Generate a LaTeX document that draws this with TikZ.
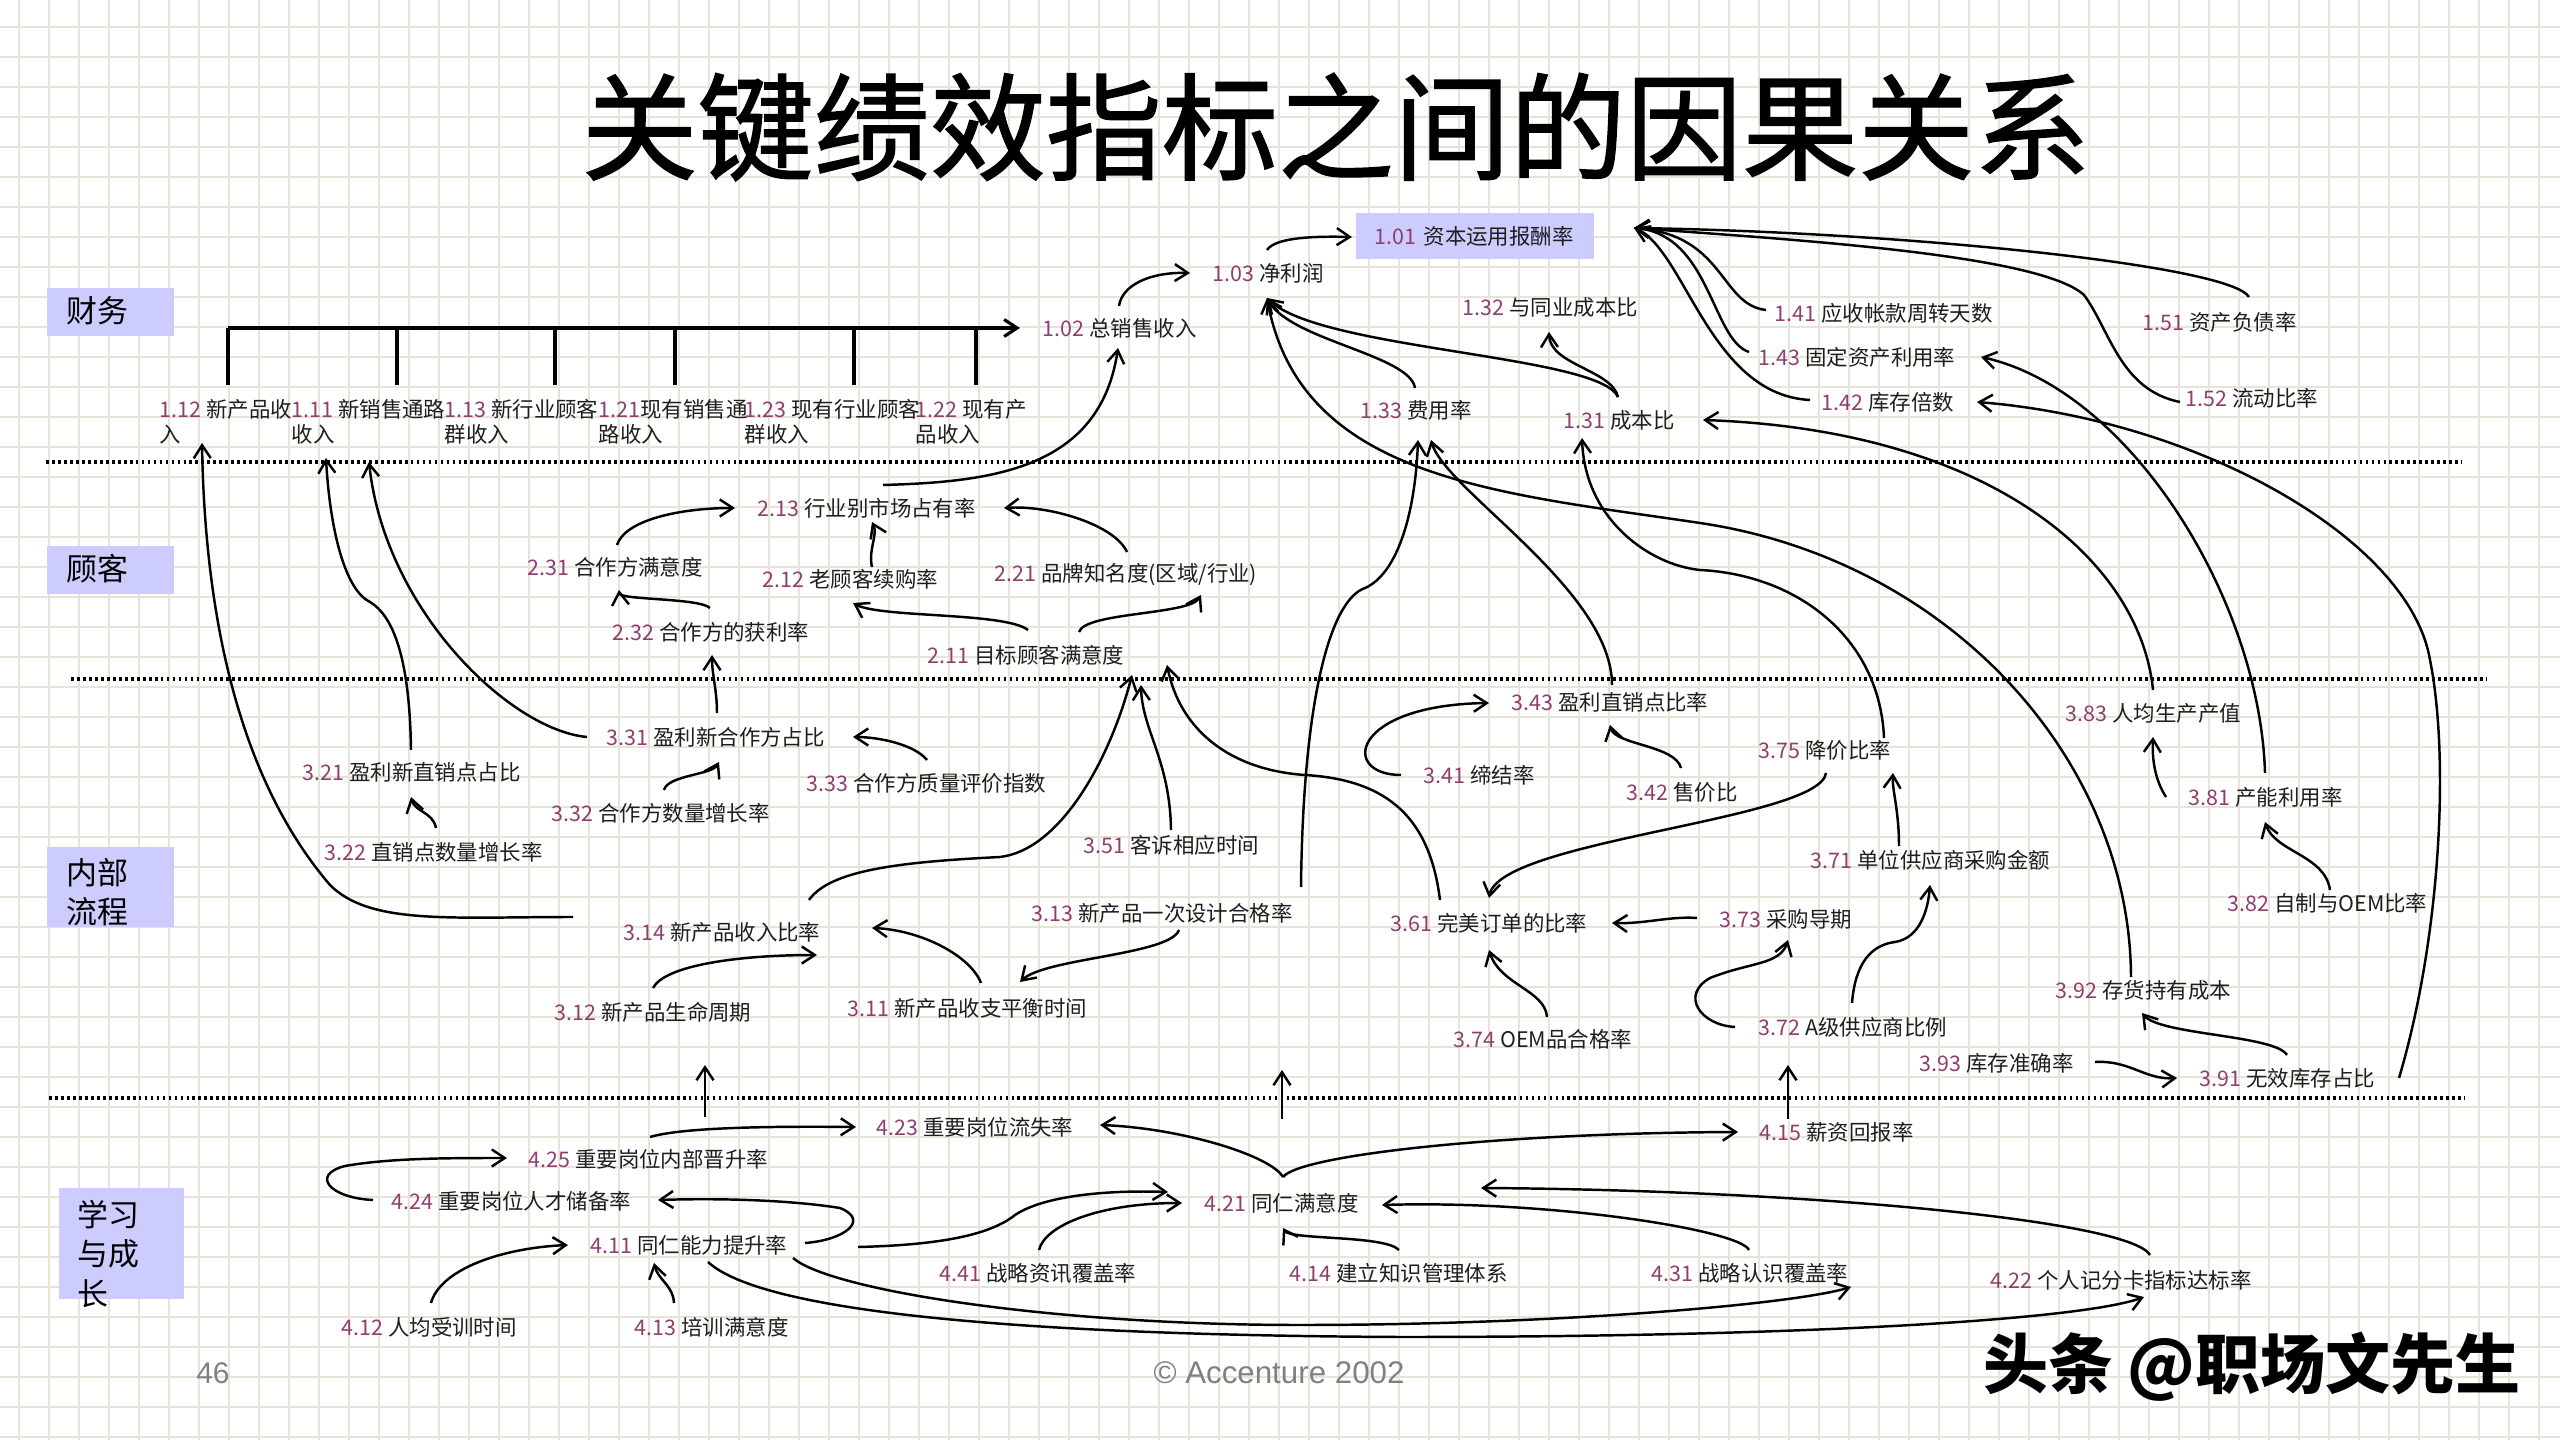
\documentclass[tikz,border=0pt]{standalone}
\usepackage{fontspec}
\usepackage{xcolor}
\usetikzlibrary{arrows.meta,calc}
\setmainfont{Noto Sans CJK SC}
\newfontfamily\latinsans{Liberation Sans}
\newfontfamily\titlefont[FakeBold=1.2]{Noto Sans CJK SC}
\definecolor{kpiInk}{HTML}{1E1E1E}
\definecolor{kpiNum}{HTML}{8E3F6E}
\definecolor{kpiBand}{HTML}{CCCCFF}
\definecolor{kpiGrid}{HTML}{E6E4D8}
\definecolor{kpiFoot}{HTML}{808080}
\newcommand{\kno}[1]{\textcolor{kpiNum}{#1}}

\begin{document}
\begin{tikzpicture}[x=0.01cm,y=-0.01cm,
  kpi/.style={anchor=west,inner sep=0pt,font=\fontsize{6.1}{7.1}\selectfont,text=kpiInk,align=left},
  band/.style={fill=kpiBand,anchor=north west,inner sep=0pt},
  bandtext/.style={anchor=west,inner sep=0pt,font=\fontsize{8.8}{11.1}\selectfont,align=left},
  link/.style={-{Straight Barb[length=1.3mm,width=1.7mm]},line width=0.7pt},
  bus/.style={line width=0.9pt},
  sep/.style={line width=1pt,dash pattern=on 0.8pt off 0.9pt},
  gridline/.style={kpiGrid,line width=0.8pt}
]
\useasboundingbox (0,0) rectangle (2560,1440);
\fill[white] (0,0) rectangle (2560,1440);
\foreach \gx in {19,49,...,2560} \draw[gridline] (\gx,0) -- (\gx,1440);
\foreach \gy in {27,57,...,1440} \draw[gridline] (0,\gy) -- (2560,\gy);

% title
\node[font=\titlefont\fontsize{33}{40}\selectfont] (title) at (1336,127) {关键绩效指标之间的因果关系};

% perspective bands
\node[band,minimum width=1.27cm,minimum height=0.48cm] (bfin) at (46,287) {};
\node[band,minimum width=1.27cm,minimum height=0.48cm] (bcus) at (46,545) {};
\node[band,minimum width=1.27cm,minimum height=0.80cm] (bint) at (46,846) {};
\node[band,minimum width=1.25cm,minimum height=1.11cm] (blrn) at (58,1187) {};
\node[bandtext] (tfin) at (66,311) {财务};
\node[bandtext] (tcus) at (66,569) {顾客};
\node[bandtext] (tint) at (66,892) {内部\\流程};
\node[bandtext] (tlrn) at (77,1254) {学习\\与成\\长};

% separators
\draw[sep] (46,462) -- (2462,462);
\draw[sep] (71,679) -- (2487,679);
\draw[sep] (49,1098) -- (2465,1098);

% finance
\node[kpi] (f112) at (159,422) {\kno{1.12} 新产品收\\入};
\node[kpi] (f111) at (291,422) {\kno{1.11} 新销售通路\\收入};
\node[kpi] (f113) at (444,422) {\kno{1.13} 新行业顾客\\群收入};
\node[kpi] (f121) at (598,422) {\kno{1.21}现有销售通\\路收入};
\node[kpi] (f123) at (744,422) {\kno{1.23} 现有行业顾客\\群收入};
\node[kpi] (f122) at (915,422) {\kno{1.22} 现有产\\品收入};
\node[kpi] (f102) at (1042,328) {\kno{1.02} 总销售收入};
\node[kpi] (f103) at (1212,273) {\kno{1.03} 净利润};
\node[kpi,fill=kpiBand,minimum height=0.45cm,text width=2.0cm,inner xsep=0.19cm] (f101) at (1355,236) {\kno{1.01} 资本运用报酬率};
\node[kpi] (f132) at (1462,307) {\kno{1.32} 与同业成本比};
\node[kpi] (f133) at (1360,410) {\kno{1.33} 费用率};
\node[kpi] (f131) at (1563,420) {\kno{1.31} 成本比};
\node[kpi] (f141) at (1774,313) {\kno{1.41} 应收帐款周转天数};
\node[kpi] (f143) at (1758,357) {\kno{1.43} 固定资产利用率};
\node[kpi] (f142) at (1821,402) {\kno{1.42} 库存倍数};
\node[kpi] (f151) at (2142,322) {\kno{1.51} 资产负债率};
\node[kpi] (f152) at (2185,398) {\kno{1.52} 流动比率};

% customer
\node[kpi] (c213) at (757,508) {\kno{2.13} 行业别市场占有率};
\node[kpi] (c231) at (527,567) {\kno{2.31} 合作方满意度};
\node[kpi] (c212) at (762,579) {\kno{2.12} 老顾客续购率};
\node[kpi] (c221) at (994,575) {\kno{2.21} 品牌知名度(区域/行业)};
\node[kpi] (c232) at (612,632) {\kno{2.32} 合作方的获利率};
\node[kpi] (c211) at (927,655) {\kno{2.11} 目标顾客满意度};

% internal process
\node[kpi] (p331) at (606,737) {\kno{3.31} 盈利新合作方占比};
\node[kpi] (p321) at (302,772) {\kno{3.21} 盈利新直销点占比};
\node[kpi] (p333) at (806,783) {\kno{3.33} 合作方质量评价指数};
\node[kpi] (p332) at (551,813) {\kno{3.32} 合作方数量增长率};
\node[kpi] (p322) at (324,852) {\kno{3.22} 直销点数量增长率};
\node[kpi] (p343) at (1511,702) {\kno{3.43} 盈利直销点比率};
\node[kpi] (p341) at (1423,775) {\kno{3.41} 缔结率};
\node[kpi] (p342) at (1626,792) {\kno{3.42} 售价比};
\node[kpi] (p351) at (1083,845) {\kno{3.51} 客诉相应时间};
\node[kpi] (p375) at (1758,750) {\kno{3.75} 降价比率};
\node[kpi] (p383) at (2065,713) {\kno{3.83} 人均生产产值};
\node[kpi] (p381) at (2188,797) {\kno{3.81} 产能利用率};
\node[kpi] (p371) at (1810,860) {\kno{3.71} 单位供应商采购金额};
\node[kpi] (p382) at (2227,903) {\kno{3.82} 自制与OEM比率};
\node[kpi] (p314) at (623,932) {\kno{3.14} 新产品收入比率};
\node[kpi] (p313) at (1031,913) {\kno{3.13} 新产品一次设计合格率};
\node[kpi] (p361) at (1390,923) {\kno{3.61} 完美订单的比率};
\node[kpi] (p373) at (1719,919) {\kno{3.73} 采购导期};
\node[kpi] (p312) at (554,1012) {\kno{3.12} 新产品生命周期};
\node[kpi] (p311) at (847,1008) {\kno{3.11} 新产品收支平衡时间};
\node[kpi] (p374) at (1453,1039) {\kno{3.74} OEM品合格率};
\node[kpi] (p392) at (2055,990) {\kno{3.92} 存货持有成本};
\node[kpi] (p372) at (1758,1027) {\kno{3.72} A级供应商比例};
\node[kpi] (p393) at (1919,1063) {\kno{3.93} 库存准确率};
\node[kpi] (p391) at (2199,1078) {\kno{3.91} 无效库存占比};

% learning and growth
\node[kpi] (l423) at (876,1127) {\kno{4.23} 重要岗位流失率};
\node[kpi] (l415) at (1759,1132) {\kno{4.15} 薪资回报率};
\node[kpi] (l425) at (528,1159) {\kno{4.25} 重要岗位内部晋升率};
\node[kpi] (l424) at (391,1201) {\kno{4.24} 重要岗位人才储备率};
\node[kpi] (l421) at (1204,1203) {\kno{4.21} 同仁满意度};
\node[kpi] (l411) at (590,1245) {\kno{4.11} 同仁能力提升率};
\node[kpi] (l441) at (939,1273) {\kno{4.41} 战略资讯覆盖率};
\node[kpi] (l414) at (1289,1273) {\kno{4.14} 建立知识管理体系};
\node[kpi] (l431) at (1651,1273) {\kno{4.31} 战略认识覆盖率};
\node[kpi] (l422) at (1990,1280) {\kno{4.22} 个人记分卡指标达标率};
\node[kpi] (l412) at (341,1327) {\kno{4.12} 人均受训时间};
\node[kpi] (l413) at (634,1327) {\kno{4.13} 培训满意度};

% footer
\node[font=\latinsans\fontsize{8.5}{10}\selectfont,text=kpiFoot] (pageno) at (213,1373) {46};
\node[font=\latinsans\fontsize{8.9}{10}\selectfont,text=kpiFoot] (copyr) at (1279,1373) {© Accenture 2002};
\node[font=\fontsize{18.5}{22}\selectfont\bfseries] (mark) at (2252,1367) {头条 @职场文先生};

% revenue bus
\coordinate (busL) at (228,328);
\draw[link,bus] (busL) -- ([shift={(-22,0)}]f102.west);
\foreach \n/\dx in {f112/69,f111/106,f113/111,f121/77,f123/110,f122/61}
  \draw[bus] ([shift={(\dx,-14)}]\n.north west) |- (busL);

% finance links
\draw[link] ([shift={(77,-22)}]f102.west) .. controls (1122,285) and (1150,272) .. ([shift={(-22,0)}]f103.west);
\draw[link] ([shift={(55,-23)}]f103.west) .. controls (1275,238) and (1310,236) .. ([shift={(-3,1)}]f101.west);
\draw[link] ([shift={(55,-22)}]f133.west) .. controls (1410,355) and (1290,340) .. ([shift={(55,25)}]f103.west);
\draw[link] ([shift={(55,-23)}]f131.west) .. controls (1600,355) and (1320,350) .. ([shift={(55,25)}]f103.west);
\draw[link] ([shift={(55,-23)}]f131.west) .. controls (1612,370) and (1550,365) .. ([shift={(87,25)}]f132.west);
\draw[link] ([shift={(107,-25)}]f151.west) .. controls (2230,265) and (1900,232) .. ([shift={(279,-8)}]f101.west);
\draw[link] ([shift={(-5,4)}]f152.west) .. controls (2120,390) and (2110,330) .. (2084,295) .. controls (2040,255) and (1800,240) .. ([shift={(279,-8)}]f101.west);
\draw[link] ([shift={(-8,-3)}]f141.west) .. controls (1720,305) and (1725,235) .. ([shift={(279,-8)}]f101.west);
\draw[link] ([shift={(-9,-5)}]f143.west) .. controls (1712,340) and (1710,235) .. ([shift={(279,-8)}]f101.west);
\draw[link] ([shift={(-11,-2)}]f142.west) .. controls (1710,395) and (1685,250) .. ([shift={(279,-8)}]f101.west);

% customer / process up to finance
\draw[link] ([shift={(126,-23)}]c213.west) .. controls (990,482) and (1100,470) .. ([shift={(76,20)}]f102.west);
\draw[link] ([shift={(76,-13)}]p392.west) .. controls (2130,760) and (1950,560) .. (1700,523) .. controls (1500,493) and (1300,480) .. ([shift={(55,25)}]f103.west);
\draw[link] ([shift={(101,-17)}]p343.west) .. controls (1612,590) and (1445,490) .. ([shift={(71,30)}]f133.west);
\draw[link] ([shift={(270,-26)}]p313.west) .. controls (1303,700) and (1330,600) .. (1365,588) .. controls (1395,575) and (1415,520) .. ([shift={(58,30)}]f133.west);
\draw[link] ([shift={(88,-23)}]p383.west) .. controls (2140,560) and (1990,430) .. ([shift={(140,0)}]f131.west);
\draw[link] ([shift={(77,-24)}]p381.west) .. controls (2260,600) and (2130,390) .. ([shift={(223,0)}]f143.west);
\draw[link] ([shift={(200,0)}]p391.west) .. controls (2440,940) and (2450,760) .. (2430,660) .. controls (2410,540) and (2200,420) .. ([shift={(156,0)}]f142.west);
\draw[link] ([shift={(126,-12)}]p375.west) .. controls (1880,640) and (1800,575) .. (1700,570) .. controls (1650,565) and (1585,520) .. ([shift={(19,18)}]f131.west);
\draw[link] ([shift={(109,-22)}]p321.west) .. controls (410,680) and (400,620) .. (370,602) .. controls (345,590) and (330,530) .. ([shift={(35,36)}]f111.west);
\draw[link] ([shift={(-19,0)}]p331.west) .. controls (510,730) and (385,610) .. ([shift={(78,40)}]f111.west);
\draw[link] ([shift={(-50,-15)}]p314.west) .. controls (450,917) and (370,925) .. (330,885) .. controls (240,780) and (205,620) .. ([shift={(43,21)}]f112.west);

% customer links
\draw[link] ([shift={(101,-25)}]c211.west) .. controls (1005,612) and (880,618) .. ([shift={(91,24)}]c212.west);
\draw[link] ([shift={(152,-23)}]c211.west) .. controls (1085,612) and (1190,615) .. ([shift={(207,20)}]c221.west);
\draw[link] ([shift={(133,-23)}]c221.west) .. controls (1115,525) and (1050,505) .. ([shift={(247,0)}]c213.west);
\draw[link] ([shift={(110,-12)}]c212.west) .. controls (868,550) and (878,535) .. ([shift={(115,14)}]c213.west);
\draw[link] ([shift={(90,-22)}]c231.west) .. controls (625,520) and (680,508) .. ([shift={(-22,0)}]c213.west);
\draw[link] ([shift={(98,-24)}]c232.west) .. controls (700,598) and (620,600) .. ([shift={(92,23)}]c231.west);

% process links
\draw[link] ([shift={(50,-23)}]p361.west) .. controls (1430,820) and (1390,780) .. (1305,775) .. controls (1230,770) and (1180,730) .. ([shift={(240,10)}]c211.west);
\draw[link] ([shift={(88,-15)}]p351.west) .. controls (1170,760) and (1142,730) .. ([shift={(214,30)}]c211.west);
\draw[link] ([shift={(186,-32)}]p314.west) .. controls (830,870) and (900,862) .. (1000,857) .. controls (1060,850) and (1110,760) .. ([shift={(205,20)}]c211.west);
\draw[link] ([shift={(111,-24)}]p331.west) .. controls (717,690) and (712,675) .. ([shift={(100,23)}]c232.west);
\draw[link] ([shift={(113,-23)}]p332.west) .. controls (668,775) and (712,775) .. ([shift={(113,25)}]p331.west);
\draw[link] ([shift={(121,-23)}]p333.west) .. controls (915,745) and (880,737) .. ([shift={(247,0)}]p331.west);
\draw[link] ([shift={(112,-24)}]p322.west) .. controls (433,812) and (415,812) .. ([shift={(109,25)}]p321.west);
\draw[link] ([shift={(99,-24)}]p312.west) .. controls (665,965) and (740,955) .. ([shift={(194,23)}]p314.west);
\draw[link] ([shift={(134,-25)}]p311.west) .. controls (970,955) and (920,930) .. ([shift={(249,-4)}]p314.west);
\draw[link] ([shift={(148,17)}]p313.west) .. controls (1170,955) and (1045,958) .. ([shift={(173,-26)}]p311.west);
\draw[link] ([shift={(-22,0)}]p341.west) .. controls (1340,775) and (1350,705) .. ([shift={(-22,1)}]p343.west);
\draw[link] ([shift={(55,-24)}]p342.west) .. controls (1675,745) and (1615,745) .. ([shift={(99,23)}]p343.west);
\draw[link] ([shift={(68,23)}]p375.west) .. controls (1820,820) and (1500,840) .. ([shift={(99,-25)}]p361.west);
\draw[link] ([shift={(89,-14)}]p371.west) .. controls (1899,810) and (1892,790) .. ([shift={(135,23)}]p375.west);
\draw[link] ([shift={(-22,-1)}]p373.west) .. controls (1670,916) and (1645,924) .. ([shift={(222,0)}]p361.west);
\draw[link] ([shift={(94,-22)}]p374.west) .. controls (1545,990) and (1500,985) .. ([shift={(99,27)}]p361.west);
\draw[link] ([shift={(-23,0)}]p372.west) .. controls (1700,1025) and (1680,995) .. (1710,978) .. controls (1750,962) and (1780,965) .. ([shift={(69,21)}]p373.west);
\draw[link] ([shift={(94,-24)}]p372.west) .. controls (1855,965) and (1870,945) .. (1895,942) .. controls (1920,938) and (1928,910) .. ([shift={(120,25)}]p371.west);
\draw[link] ([shift={(-22,0)}]p381.west) .. controls (2155,780) and (2152,760) .. ([shift={(88,24)}]p383.west);
\draw[link] ([shift={(103,-13)}]p382.west) .. controls (2325,855) and (2275,852) .. ([shift={(77,25)}]p381.west);
\draw[link] ([shift={(176,-1)}]p393.west) .. controls (2130,1060) and (2145,1080) .. ([shift={(-22,0)}]p391.west);
\draw[link] ([shift={(88,-23)}]p391.west) .. controls (2275,1035) and (2160,1035) .. ([shift={(87,23)}]p392.west);

% learning up to process
\coordinate (liftA) at (705,1117);
\coordinate (liftAtop) at (705,1065);
\coordinate (liftB) at (1282,1119);
\coordinate (liftBtop) at (1282,1070);
\draw[link] (liftA) -- (liftAtop);
\draw[link] (liftB) -- (liftBtop);
\draw[link] ([shift={(29,-13)}]l415.west) -- ([shift={(30,38)}]p372.west);

% learning links
\draw[link] ([shift={(122,-22)}]l425.west) .. controls (680,1128) and (760,1126) .. ([shift={(-20,0)}]l423.west);
\draw[link] ([shift={(79,-26)}]l421.west) .. controls (1270,1155) and (1180,1128) .. ([shift={(224,-2)}]l423.west);
\draw[link] ([shift={(79,-26)}]l421.west) .. controls (1300,1155) and (1500,1133) .. ([shift={(-21,0)}]l415.west);
\draw[link] ([shift={(-18,-1)}]l424.west) .. controls (330,1198) and (310,1175) .. (345,1166) .. controls (390,1158) and (450,1158) .. ([shift={(-21,-1)}]l425.west);
\draw[link] ([shift={(215,-2)}]l411.west) .. controls (845,1240) and (870,1220) .. (840,1208) .. controls (790,1200) and (720,1198) .. ([shift={(267,-1)}]l424.west);
\draw[link] ([shift={(90,-24)}]l412.west) .. controls (440,1270) and (500,1248) .. ([shift={(-22,0)}]l411.west);
\draw[link] ([shift={(40,-24)}]l413.west) .. controls (673,1285) and (658,1280) .. ([shift={(64,18)}]l411.west);
\draw[link] ([shift={(268,2)}]l411.west) .. controls (940,1245) and (990,1235) .. (1015,1215) .. controls (1045,1195) and (1110,1190) .. ([shift={(-36,-11)}]l421.west);
\draw[link] ([shift={(100,-23)}]l441.west) .. controls (1045,1225) and (1100,1203) .. ([shift={(-22,0)}]l421.west);
\draw[link] ([shift={(110,-23)}]l414.west) .. controls (1385,1235) and (1290,1240) .. ([shift={(79,25)}]l421.west);
\draw[link] ([shift={(98,-23)}]l431.west) .. controls (1740,1230) and (1550,1200) .. ([shift={(178,2)}]l421.west);
\draw[link] ([shift={(160,-25)}]l422.west) .. controls (2130,1220) and (1800,1190) .. ([shift={(277,-15)}]l421.west);
\draw[link] ([shift={(203,13)}]l411.west) .. controls (830,1290) and (1050,1325) .. (1300,1325) .. controls (1550,1325) and (1790,1305) .. ([shift={(200,14)}]l431.west);
\draw[link] ([shift={(118,17)}]l411.west) .. controls (760,1310) and (1000,1335) .. (1400,1337) .. controls (1800,1337) and (2080,1320) .. ([shift={(154,17)}]l422.west);
\end{tikzpicture}
\end{document}
